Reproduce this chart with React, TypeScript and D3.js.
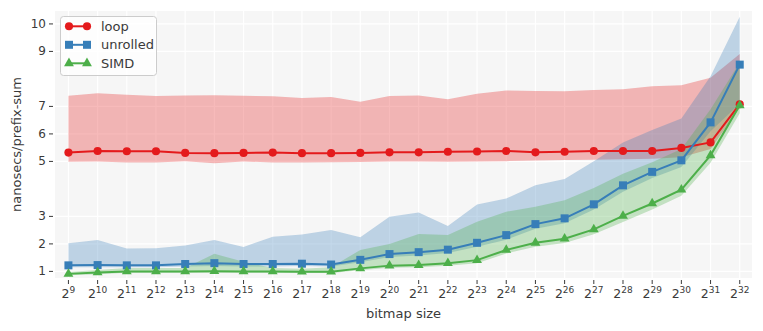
import React from 'react';
import * as d3 from 'd3';

// bitmap size exponents (2^n)
const exponents = [9, 10, 11, 12, 13, 14, 15, 16, 17, 18, 19, 20, 21, 22, 23, 24, 25, 26, 27, 28, 29, 30, 31, 32];
const yTicks = [1, 2, 3, 5, 6, 7, 9, 10];

const loop = [5.32, 5.38, 5.37, 5.37, 5.31, 5.3, 5.31, 5.32, 5.3, 5.3, 5.31, 5.33, 5.33, 5.35, 5.36, 5.38, 5.33, 5.35, 5.38, 5.38, 5.38, 5.49, 5.69, 7.08];
const loopHi = [7.39, 7.48, 7.42, 7.38, 7.4, 7.41, 7.39, 7.37, 7.31, 7.34, 7.17, 7.38, 7.4, 7.26, 7.46, 7.58, 7.56, 7.55, 7.6, 7.62, 7.73, 7.77, 8.04, 8.91];
const loopLo = [4.99, 5.0, 4.96, 4.96, 5.01, 4.93, 5.0, 4.96, 4.96, 4.97, 4.98, 5.0, 5.0, 4.99, 5.0, 5.01, 5.03, 5.05, 5.06, 5.08, 5.1, 5.15, 5.45, 6.95];

const unrolled = [1.22, 1.23, 1.22, 1.22, 1.27, 1.3, 1.27, 1.27, 1.28, 1.25, 1.42, 1.63, 1.7, 1.79, 2.04, 2.32, 2.72, 2.93, 3.44, 4.13, 4.62, 5.04, 6.42, 8.52];
const unrolledHi = [2.02, 2.14, 1.83, 1.84, 1.94, 2.14, 1.89, 2.26, 2.34, 2.51, 2.24, 2.99, 3.14, 2.65, 3.43, 3.65, 4.13, 4.36, 5.01, 5.69, 6.14, 6.56, 8.1, 10.26];
const unrolledLo = [1.15, 1.15, 1.15, 1.15, 1.18, 1.2, 1.18, 1.18, 1.2, 1.18, 1.33, 1.52, 1.58, 1.67, 1.9, 2.15, 2.55, 2.75, 3.25, 3.9, 4.4, 4.8, 6.1, 7.1];

const simd = [0.91, 0.96, 1.0, 1.0, 1.0, 1.01, 1.0, 1.0, 0.99, 0.99, 1.11, 1.21, 1.23, 1.3, 1.41, 1.78, 2.04, 2.19, 2.53, 3.02, 3.47, 3.97, 5.22, 7.04];
const simdHi = [0.98, 1.05, 1.12, 1.12, 1.12, 1.64, 1.35, 1.12, 1.1, 1.15, 1.78, 2.0, 2.36, 2.32, 2.81, 3.17, 3.35, 3.59, 4.03, 4.55, 4.97, 5.45, 6.9, 8.6];
const simdLo = [0.86, 0.9, 0.95, 0.95, 0.95, 0.95, 0.95, 0.95, 0.94, 0.94, 1.04, 1.13, 1.15, 1.21, 1.3, 1.65, 1.9, 2.03, 2.35, 2.8, 3.25, 3.75, 4.95, 6.75];

const series = [
  { name: 'loop', color: '#e41a1c', mean: loop, hi: loopHi, lo: loopLo, symbol: d3.symbolCircle, size: 52 },
  { name: 'unrolled', color: '#377eb8', mean: unrolled, hi: unrolledHi, lo: unrolledLo, symbol: d3.symbolSquare, size: 64 },
  { name: 'SIMD', color: '#4daf4a', mean: simd, hi: simdHi, lo: simdLo, symbol: d3.symbolTriangle, size: 42 },
];

const W = 763;
const H = 331;
const left = 55, right = 752, top = 11, bottom = 278;
const font = 'DejaVu Sans, sans-serif';
const textColor = '#3a3a3a';

export default function App() {
  const x = d3.scaleLinear().domain([8.54, 32.42]).range([left, right]);
  const y = d3.scaleLinear().domain([0.76, 10.47]).range([bottom, top]);

  const line = d3
    .line<number>()
    .x((d, i) => x(exponents[i]))
    .y(d => y(d));

  const area = (lo: number[], hi: number[]) =>
    d3
      .area<number>()
      .x((d, i) => x(exponents[i]))
      .y0((d, i) => y(lo[i]))
      .y1((d, i) => y(hi[i]))(exponents);

  return (
    <div style={{ position: 'absolute', left: 0, top: 0 }}>
      <svg width={W} height={H} style={{ display: 'block', background: '#fff' }} fontFamily={font}>
        <defs>
          <clipPath id="plot">
            <rect x={left} y={top} width={right - left} height={bottom - top} />
          </clipPath>
        </defs>
        <rect x={left} y={top} width={right - left} height={bottom - top} fill="#f6f6f6" />
        {/* grid */}
        {exponents.map(e => (
          <line key={'gx' + e} x1={x(e)} x2={x(e)} y1={top} y2={bottom} stroke="#fff" strokeWidth={1.2} />
        ))}
        {yTicks.map(t => (
          <line key={'gy' + t} x1={left} x2={right} y1={y(t)} y2={y(t)} stroke="#fff" strokeWidth={1.2} />
        ))}
        <g clipPath="url(#plot)">
          {series.map(s => (
            <path key={'band' + s.name} d={area(s.lo, s.hi) || ''} fill={s.color} fillOpacity={0.3} />
          ))}
          {series.map(s => (
            <g key={'line' + s.name}>
              <path d={line(s.mean) || ''} fill="none" stroke={s.color} strokeWidth={2} />
              {s.mean.map((v, i) => (
                <path
                  key={i}
                  transform={`translate(${x(exponents[i])},${y(v)})`}
                  d={d3.symbol().type(s.symbol).size(s.size)() || ''}
                  fill={s.color}
                />
              ))}
            </g>
          ))}
        </g>
        {/* y axis */}
        {yTicks.map(t => (
          <g key={'yt' + t}>
            <line x1={49} x2={53} y1={y(t)} y2={y(t)} stroke={textColor} strokeWidth={1} />
            <text x={46} y={y(t)} textAnchor="end" dominantBaseline="central" fontSize={12} fill={textColor}>
              {t}
            </text>
          </g>
        ))}
        {/* x axis */}
        {exponents.map(e => (
          <g key={'xt' + e}>
            <line x1={x(e)} x2={x(e)} y1={280} y2={284} stroke={textColor} strokeWidth={1} />
            <text x={x(e)} y={298} textAnchor="middle" fontSize={12.5} fill={textColor}>
              2<tspan dy={-5} fontSize={9}>{e}</tspan>
            </text>
          </g>
        ))}
        <text x={(left + right) / 2} y={318} textAnchor="middle" fontSize={13} fill={textColor}>
          bitmap size
        </text>
        <text
          transform={`translate(21,${(top + bottom) / 2}) rotate(-90)`}
          textAnchor="middle"
          fontSize={13}
          fill={textColor}
        >
          nanosecs/prefix-sum
        </text>
        {/* legend */}
        <rect x={60.5} y={16.5} width={96} height={59} rx={3} fill="#fff" fillOpacity={0.8} stroke="#ccc" />
        {series.map((s, i) => {
          const ly = 26.3 + i * 18.5;
          return (
            <g key={'lg' + s.name}>
              <line x1={69} x2={87} y1={ly} y2={ly} stroke={s.color} strokeWidth={2} />
              {[69, 87].map(lx => (
                <path
                  key={lx}
                  transform={`translate(${lx},${ly})`}
                  d={d3.symbol().type(s.symbol).size(s.size)() || ''}
                  fill={s.color}
                />
              ))}
              <text x={101} y={ly} dominantBaseline="central" fontSize={13} fill={textColor}>
                {s.name}
              </text>
            </g>
          );
        })}
      </svg>
    </div>
  );
}
